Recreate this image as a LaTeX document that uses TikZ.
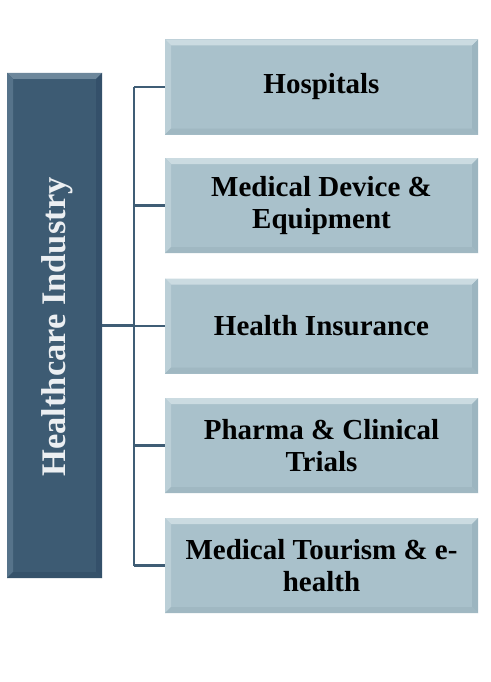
\documentclass[tikz,border=0pt]{standalone}
\usepackage{fontspec}
\setmainfont{Liberation Serif}
\definecolor{darkfill}{HTML}{3D5B73}
\definecolor{darktop}{HTML}{6D879B}
\definecolor{darkleft}{HTML}{56738A}
\definecolor{darkright}{HTML}{34506A}
\definecolor{darkbot}{HTML}{35526A}
\definecolor{lightfill}{HTML}{A9C1CB}
\definecolor{lighttop}{HTML}{CBDBE1}
\definecolor{lightleft}{HTML}{BBCFD7}
\definecolor{lightright}{HTML}{9CB5C0}
\definecolor{lightbot}{HTML}{A0B8C2}
\definecolor{linecol}{HTML}{3F5D75}
\definecolor{txtwhite}{HTML}{ECEFF2}
\newcommand{\bevelpic}[5]{%
  \fill[#2] (path picture bounding box.north west) -- (path picture bounding box.north east)
     -- ([shift={(-#1,-#1)}]path picture bounding box.north east) -- ([shift={(#1,-#1)}]path picture bounding box.north west) -- cycle;
  \fill[#3] (path picture bounding box.north west) -- (path picture bounding box.south west)
     -- ([shift={(#1,#1)}]path picture bounding box.south west) -- ([shift={(#1,-#1)}]path picture bounding box.north west) -- cycle;
  \fill[#4] (path picture bounding box.north east) -- (path picture bounding box.south east)
     -- ([shift={(-#1,#1)}]path picture bounding box.south east) -- ([shift={(-#1,-#1)}]path picture bounding box.north east) -- cycle;
  \fill[#5] (path picture bounding box.south west) -- (path picture bounding box.south east)
     -- ([shift={(-#1,#1)}]path picture bounding box.south east) -- ([shift={(#1,#1)}]path picture bounding box.south west) -- cycle;
}
\begin{document}
\begin{tikzpicture}[x=1pt,y=-1pt,
  rbox/.style={fill=lightfill, minimum width=313pt, minimum height=95pt, inner sep=0pt,
     align=center, font=\fontsize{29}{32}\selectfont\bfseries,
     path picture={\bevelpic{6pt}{lighttop}{lightleft}{lightright}{lightbot}}},
  lbox/.style={fill=darkfill, minimum width=95pt, minimum height=505pt, inner sep=0pt,
     path picture={\bevelpic{6pt}{darktop}{darkleft}{darkright}{darkbot}}},
  conn/.style={draw=linecol, line width=2.5pt}]
\useasboundingbox[fill=white] (0,0) rectangle (490,682);
\node[lbox] (L) at (54.5,325.5) {};
\node[rotate=90, text=txtwhite, font=\fontsize{34.5}{38}\selectfont\bfseries] (Lt) at (57.5,327) {Healthcare Industry};
\node[rbox] (b1) at (321.5,87) {Hospitals};
\node[rbox] (b2) at (321.5,205.5) {Medical Device \&\\Equipment};
\node[rbox] (b3) at (321.5,326) {Health Insurance};
\node[rbox] (b4) at (321.5,445.5) {Pharma \& Clinical\\Trials};
\node[rbox] (b5) at (321.5,565.5) {Medical Tourism \& e-\\health};
\coordinate (T) at (134,0);
\draw[conn] (b1.west -| T) -- (b5.west -| T);
\foreach \b in {b1,b2,b3,b4,b5} {\draw[conn] (\b.west) -- (\b.west -| T);}
\draw[conn] (L.east) -- (L.east -| T);
\end{tikzpicture}
\end{document}
